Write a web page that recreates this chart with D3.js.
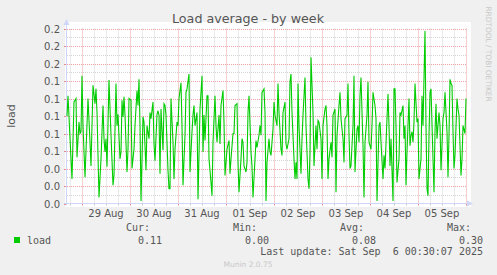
<!DOCTYPE html>
<html>
<head>
<meta charset="utf-8">
<script src="https://cdn.jsdelivr.net/npm/d3@7"></script>
<style>
  body { margin: 0; background: #f0f0f0; }
  text { font-family: "DejaVu Sans", sans-serif; }
  .mono { font-family: "DejaVu Sans Mono", monospace; }
</style>
</head>
<body>
<svg id="chart" width="497" height="275"></svg>
<script>
// graph window: 400 samples of 30 min each
var startTime = new Date(2025, 7, 28, 16, 30);
var endTime = new Date(2025, 8, 6, 0, 30);

// half-hour step index and load value at that step
var steps = [0, 1, 4, 5, 7, 9, 10, 12, 13, 14, 15, 16, 18, 21, 23, 24, 26, 28, 29, 30,
  32, 34, 36, 37, 38, 39, 40, 42, 44, 46, 47, 49, 50, 51, 53, 54, 55, 56, 57, 58,
  60, 61, 62, 64, 65, 67, 68, 70, 71, 72, 73, 74, 76, 77, 79, 80, 82, 83, 84, 86,
  87, 88, 90, 91, 92, 93, 94, 96, 97, 98, 99, 101, 102, 103, 104, 106, 107, 108, 110, 111,
  112, 114, 115, 116, 118, 119, 120, 122, 123, 125, 126, 127, 128, 130, 131, 133, 135, 136, 137, 138,
  140, 141, 142, 144, 145, 146, 148, 149, 150, 152, 153, 154, 156, 157, 158, 160, 162, 163, 164, 166,
  167, 168, 170, 171, 172, 174, 175, 176, 177, 179, 180, 181, 182, 184, 185, 186, 188, 189, 190, 192,
  193, 194, 195, 197, 198, 199, 200, 202, 203, 204, 206, 207, 208, 210, 211, 212, 214, 215, 216, 218,
  219, 220, 222, 223, 224, 225, 227, 228, 229, 230, 231, 232, 234, 235, 236, 238, 239, 241, 242, 243,
  244, 246, 247, 249, 250, 251, 252, 254, 255, 256, 258, 259, 260, 261, 262, 264, 265, 266, 268, 269,
  270, 272, 273, 274, 276, 277, 278, 280, 281, 282, 283, 284, 286, 287, 288, 290, 291, 292, 293, 294,
  296, 297, 298, 300, 301, 302, 304, 305, 306, 308, 309, 310, 312, 313, 314, 316, 317, 318, 320, 321,
  322, 323, 324, 326, 327, 328, 329, 330, 332, 333, 334, 336, 337, 338, 339, 340, 342, 343, 344, 345,
  346, 347, 348, 350, 351, 352, 354, 355, 356, 358, 359, 360, 361, 362, 363, 364, 366, 367, 368, 369,
  370, 372, 373, 374, 376, 377, 378, 380, 381, 382, 383, 384, 385, 386, 387, 388, 390, 391, 392, 394,
  395, 396, 398, 399];
var load = [0.100, 0.123, 0.051, 0.028, 0.116, 0.120, 0.053, 0.093, 0.080, 0.082, 0.146, 0.089, 0.030, 0.120, 0.070, 0.043, 0.135, 0.114, 0.131, 0.104,
  0.007, 0.051, 0.112, 0.074, 0.059, 0.074, 0.042, 0.141, 0.078, 0.021, 0.032, 0.137, 0.089, 0.102, 0.051, 0.059, 0.118, 0.099, 0.122, 0.101,
  0.036, 0.062, 0.120, 0.118, 0.040, 0.062, 0.089, 0.129, 0.112, 0.142, 0.089, 0.003, 0.099, 0.093, 0.038, 0.089, 0.074, 0.104, 0.097, 0.116,
  0.068, 0.049, 0.102, 0.106, 0.101, 0.034, 0.108, 0.061, 0.114, 0.112, 0.101, 0.038, 0.017, 0.017, 0.120, 0.070, 0.028, 0.062, 0.093, 0.089,
  0.120, 0.138, 0.089, 0.021, 0.078, 0.127, 0.131, 0.148, 0.036, 0.082, 0.101, 0.112, 0.089, 0.104, 0.005, 0.108, 0.146, 0.059, 0.101, 0.072,
  0.123, 0.123, 0.051, 0.024, 0.009, 0.070, 0.123, 0.089, 0.070, 0.101, 0.068, 0.112, 0.129, 0.093, 0.032, 0.062, 0.072, 0.034, 0.051, 0.080,
  0.080, 0.112, 0.114, 0.047, 0.013, 0.051, 0.074, 0.070, 0.043, 0.036, 0.047, 0.104, 0.123, 0.059, 0.043, 0.007, 0.051, 0.072, 0.064, 0.078,
  0.089, 0.078, 0.127, 0.131, 0.104, 0.003, 0.047, 0.074, 0.059, 0.055, 0.085, 0.116, 0.101, 0.089, 0.137, 0.104, 0.062, 0.055, 0.104, 0.116,
  0.068, 0.062, 0.074, 0.139, 0.148, 0.104, 0.051, 0.028, 0.047, 0.028, 0.137, 0.089, 0.034, 0.074, 0.101, 0.144, 0.089, 0.028, 0.017, 0.059,
  0.167, 0.104, 0.043, 0.089, 0.062, 0.095, 0.093, 0.074, 0.028, 0.089, 0.108, 0.112, 0.089, 0.028, 0.051, 0.070, 0.053, 0.101, 0.108, 0.013,
  0.078, 0.112, 0.127, 0.097, 0.074, 0.047, 0.097, 0.101, 0.137, 0.078, 0.040, 0.043, 0.089, 0.146, 0.036, 0.085, 0.089, 0.070, 0.123, 0.144,
  0.066, 0.007, 0.070, 0.101, 0.139, 0.070, 0.062, 0.089, 0.127, 0.112, 0.097, 0.003, 0.089, 0.093, 0.070, 0.028, 0.055, 0.040, 0.097, 0.125,
  0.089, 0.043, 0.074, 0.003, 0.131, 0.131, 0.089, 0.024, 0.051, 0.104, 0.101, 0.112, 0.074, 0.089, 0.021, 0.059, 0.120, 0.066, 0.078, 0.082,
  0.070, 0.093, 0.137, 0.093, 0.097, 0.028, 0.051, 0.123, 0.089, 0.197, 0.089, 0.017, 0.009, 0.078, 0.127, 0.131, 0.051, 0.013, 0.082, 0.114,
  0.074, 0.104, 0.089, 0.038, 0.097, 0.104, 0.127, 0.082, 0.030, 0.078, 0.142, 0.137, 0.135, 0.082, 0.040, 0.055, 0.120, 0.108, 0.101, 0.032,
  0.051, 0.089, 0.080, 0.120];

var yTicks = [0, 0.02, 0.04, 0.06, 0.08, 0.10, 0.12, 0.14, 0.16, 0.18, 0.20];
var yTickLabels = ["0.0", "0.0", "0.0", "0.1", "0.1", "0.1", "0.1", "0.1", "0.2", "0.2", "0.2"];
var dayLabels = ["29 Aug", "30 Aug", "31 Aug", "01 Sep", "02 Sep", "03 Sep", "04 Sep", "05 Sep"];

var legendNames = ["Cur:", "Min:", "Avg:", "Max:"];
var legendValues = ["0.11", "0.00", "0.08", "0.30"];
var lastUpdate = "Last update: Sat Sep  6 00:30:07 2025";

(function () {
    var svg = d3.select("#chart");
    var plotLeft = 67, plotRight = 467, plotTop = 28.5, plotBottom = 203.5;

    var x = d3.scaleTime().domain([startTime, endTime]).range([plotLeft, plotRight]);
    var y = d3.scaleLinear().domain([0, 0.2]).range([plotBottom, plotTop]);

    svg.append("rect").attr("width", 497).attr("height", 275).attr("fill", "#f0f0f0");
    svg.append("rect").attr("x", 65).attr("y", 22).attr("width", 406).attr("height", 185).attr("fill", "#ffffff");

    var grid = svg.append("g").attr("stroke-dasharray", "1,1").attr("stroke-width", 1);

    // minor horizontal lines every 0.01, red every 0.02
    d3.range(1, 21).forEach(function (i) {
        var yy = Math.round(y(i * 0.01)) + 0.5;
        grid.append("line")
            .attr("x1", plotLeft).attr("x2", plotRight)
            .attr("y1", yy).attr("y2", yy)
            .attr("stroke", i % 2 === 0 ? "#eda3a3" : "#d4d4d4");
    });

    // 6 hour and day lines
    d3.timeHour.every(6).range(startTime, endTime).forEach(function (t) {
        var xx = Math.round(x(t)) + 0.5;
        var isDay = t.getHours() === 0;
        grid.append("line")
            .attr("x1", xx).attr("x2", xx)
            .attr("y1", plotTop).attr("y2", plotBottom)
            .attr("stroke", isDay ? "#eda3a3" : "#d4d4d4");
        svg.append("line")
            .attr("x1", xx).attr("x2", xx)
            .attr("y1", plotBottom).attr("y2", plotBottom + 2)
            .attr("stroke", isDay ? "#e88a8a" : "#c8c8c8");
    });

    // y ticks and labels
    yTicks.forEach(function (v, i) {
        var yy = Math.round(y(v)) + 0.5;
        svg.append("line")
            .attr("x1", plotLeft - 3).attr("x2", plotLeft)
            .attr("y1", yy).attr("y2", yy)
            .attr("stroke", "#e88a8a");
        svg.append("text")
            .attr("x", 60).attr("y", yy + 3.5)
            .attr("text-anchor", "end")
            .attr("font-size", 10)
            .attr("fill", "#555")
            .text(yTickLabels[i]);
    });

    // day labels at noon
    d3.timeDay.range(new Date(2025, 7, 29), new Date(2025, 8, 6)).forEach(function (d, i) {
        svg.append("text")
            .attr("x", x(d3.timeHour.offset(d, 12)))
            .attr("y", 217)
            .attr("text-anchor", "middle")
            .attr("font-size", 10)
            .attr("fill", "#555")
            .text(dayLabels[i]);
    });

    // axes with arrows
    var axisColor = "#cfd6f8";
    svg.append("line").attr("x1", plotLeft - 0.5).attr("x2", plotLeft - 0.5).attr("y1", plotBottom + 2).attr("y2", 24)
        .attr("stroke", axisColor);
    svg.append("line").attr("x1", plotLeft - 3).attr("x2", 468).attr("y1", plotBottom).attr("y2", plotBottom)
        .attr("stroke", axisColor);
    svg.append("path").attr("d", "M63.5,25L66.5,19L69.5,25Z").attr("fill", axisColor);
    svg.append("path").attr("d", "M467,200.5L473,203.5L467,206.5Z").attr("fill", axisColor);

    // the series
    var points = steps.map(function (s, i) {
        return { t: d3.timeMinute.offset(startTime, s * 30), v: load[i] };
    });
    var line = d3.line()
        .x(function (d) { return x(d.t); })
        .y(function (d) { return y(d.v); });
    svg.append("path")
        .attr("d", line(points))
        .attr("fill", "none")
        .attr("stroke", "#00cc00")
        .attr("stroke-width", 1.1);

    // title and side texts
    svg.append("text")
        .attr("x", 248).attr("y", 23)
        .attr("text-anchor", "middle")
        .attr("font-size", 12.7)
        .attr("fill", "#555")
        .text("Load average - by week");

    svg.append("text")
        .attr("transform", "translate(14.5,116) rotate(-90)")
        .attr("text-anchor", "middle")
        .attr("font-size", 11)
        .attr("fill", "#555")
        .text("load");

    svg.append("text")
        .attr("transform", "translate(485.5,54) rotate(90)")
        .attr("text-anchor", "middle")
        .attr("font-size", 7.4)
        .attr("fill", "#c8c8c8")
        .text("RRDTOOL / TOBI OETIKER");

    // legend
    svg.append("rect").attr("x", 14).attr("y", 237).attr("width", 6).attr("height", 6)
        .attr("fill", "#00cc00");
    svg.append("text").attr("class", "mono")
        .attr("x", 27).attr("y", 244).attr("font-size", 10).attr("fill", "#555")
        .text("load");

    var colEnds = [162, 269, 376, 483];
    legendNames.forEach(function (n, i) {
        svg.append("text").attr("class", "mono")
            .attr("x", colEnds[i] - 12).attr("y", 231)
            .attr("text-anchor", "end")
            .attr("font-size", 10).attr("fill", "#555")
            .text(n);
        svg.append("text").attr("class", "mono")
            .attr("x", colEnds[i]).attr("y", 244)
            .attr("text-anchor", "end")
            .attr("font-size", 10).attr("fill", "#555")
            .text(legendValues[i]);
    });

    svg.append("text").attr("class", "mono")
        .attr("x", 483).attr("y", 255)
        .attr("text-anchor", "end")
        .attr("font-size", 10).attr("fill", "#555")
        .style("white-space", "pre")
        .text(lastUpdate);

    svg.append("text")
        .attr("x", 248).attr("y", 267)
        .attr("text-anchor", "middle")
        .attr("font-size", 7.5)
        .attr("fill", "#c8c8c8")
        .text("Munin 2.0.75");
})();
</script>
</body>
</html>
